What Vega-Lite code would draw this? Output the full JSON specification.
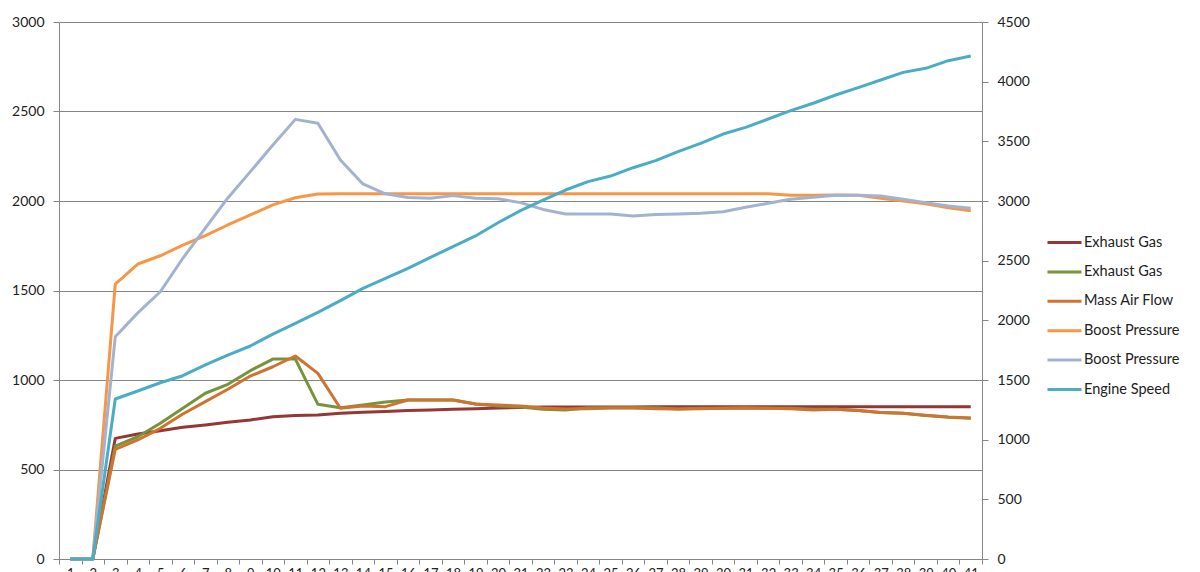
{
  "$schema": "https://vega.github.io/schema/vega-lite/v6.json",
  "width": 923,
  "height": 537,
  "autosize": "none",
  "padding": {"left": 59, "top": 22, "right": 218, "bottom": 13},
  "background": "white",
  "config": {
    "font": "Lato",
    "view": {"stroke": null},
    "axis": {
      "domainColor": "#868686",
      "tickColor": "#868686",
      "gridColor": "#868686",
      "labelColor": "#222222",
      "labelFontSize": 14,
      "labelFont": "Lato",
      "title": null
    },
    "legend": {"labelFont": "Lato"}
  },
  "data": {
    "values": [
      {"t": 1, "eg1": 0, "eg2": 0, "maf": 0, "bp1": 0, "bp2": 0, "rpm": 0},
      {"t": 2, "eg1": 0, "eg2": 0, "maf": 0, "bp1": 0, "bp2": 0, "rpm": 0},
      {"t": 3, "eg1": 674, "eg2": 631, "maf": 613, "bp1": 1536, "bp2": 1242, "rpm": 1341},
      {"t": 4, "eg1": 698, "eg2": 683, "maf": 665, "bp1": 1648, "bp2": 1375, "rpm": 1408},
      {"t": 5, "eg1": 717, "eg2": 758, "maf": 730, "bp1": 1694, "bp2": 1493, "rpm": 1477},
      {"t": 6, "eg1": 736, "eg2": 842, "maf": 810, "bp1": 1754, "bp2": 1680, "rpm": 1536},
      {"t": 7, "eg1": 749, "eg2": 926, "maf": 879, "bp1": 1806, "bp2": 1849, "rpm": 1626},
      {"t": 8, "eg1": 764, "eg2": 976, "maf": 948, "bp1": 1866, "bp2": 2017, "rpm": 1709},
      {"t": 9, "eg1": 777, "eg2": 1052, "maf": 1022, "bp1": 1922, "bp2": 2164, "rpm": 1785},
      {"t": 10, "eg1": 795, "eg2": 1117, "maf": 1074, "bp1": 1978, "bp2": 2313, "rpm": 1885},
      {"t": 11, "eg1": 801, "eg2": 1117, "maf": 1134, "bp1": 2018, "bp2": 2456, "rpm": 1975},
      {"t": 12, "eg1": 805, "eg2": 864, "maf": 1037, "bp1": 2039, "bp2": 2434, "rpm": 2067},
      {"t": 13, "eg1": 814, "eg2": 845, "maf": 842, "bp1": 2040, "bp2": 2229, "rpm": 2165},
      {"t": 14, "eg1": 820, "eg2": 860, "maf": 855, "bp1": 2040, "bp2": 2095, "rpm": 2268},
      {"t": 15, "eg1": 824, "eg2": 877, "maf": 851, "bp1": 2040, "bp2": 2040, "rpm": 2352},
      {"t": 16, "eg1": 829, "eg2": 888, "maf": 888, "bp1": 2040, "bp2": 2019, "rpm": 2436},
      {"t": 17, "eg1": 832, "eg2": 888, "maf": 888, "bp1": 2040, "bp2": 2015, "rpm": 2528},
      {"t": 18, "eg1": 836, "eg2": 888, "maf": 888, "bp1": 2040, "bp2": 2030, "rpm": 2617},
      {"t": 19, "eg1": 840, "eg2": 866, "maf": 866, "bp1": 2040, "bp2": 2015, "rpm": 2707},
      {"t": 20, "eg1": 843, "eg2": 855, "maf": 860, "bp1": 2040, "bp2": 2013, "rpm": 2818},
      {"t": 21, "eg1": 846, "eg2": 849, "maf": 855, "bp1": 2040, "bp2": 1991, "rpm": 2919},
      {"t": 22, "eg1": 849, "eg2": 836, "maf": 843, "bp1": 2040, "bp2": 1953, "rpm": 3008},
      {"t": 23, "eg1": 849, "eg2": 832, "maf": 838, "bp1": 2040, "bp2": 1927, "rpm": 3092},
      {"t": 24, "eg1": 849, "eg2": 845, "maf": 840, "bp1": 2040, "bp2": 1927, "rpm": 3162},
      {"t": 25, "eg1": 849, "eg2": 845, "maf": 843, "bp1": 2040, "bp2": 1927, "rpm": 3209},
      {"t": 26, "eg1": 849, "eg2": 845, "maf": 843, "bp1": 2040, "bp2": 1916, "rpm": 3279},
      {"t": 27, "eg1": 850, "eg2": 845, "maf": 840, "bp1": 2040, "bp2": 1925, "rpm": 3338},
      {"t": 28, "eg1": 851, "eg2": 838, "maf": 838, "bp1": 2040, "bp2": 1927, "rpm": 3413},
      {"t": 29, "eg1": 851, "eg2": 842, "maf": 840, "bp1": 2040, "bp2": 1931, "rpm": 3483},
      {"t": 30, "eg1": 851, "eg2": 842, "maf": 842, "bp1": 2040, "bp2": 1940, "rpm": 3561},
      {"t": 31, "eg1": 851, "eg2": 842, "maf": 845, "bp1": 2040, "bp2": 1965, "rpm": 3617},
      {"t": 32, "eg1": 851, "eg2": 842, "maf": 842, "bp1": 2040, "bp2": 1987, "rpm": 3687},
      {"t": 33, "eg1": 851, "eg2": 842, "maf": 840, "bp1": 2032, "bp2": 2010, "rpm": 3757},
      {"t": 34, "eg1": 851, "eg2": 836, "maf": 833, "bp1": 2032, "bp2": 2021, "rpm": 3819},
      {"t": 35, "eg1": 851, "eg2": 836, "maf": 836, "bp1": 2034, "bp2": 2032, "rpm": 3888},
      {"t": 36, "eg1": 851, "eg2": 829, "maf": 829, "bp1": 2032, "bp2": 2032, "rpm": 3950},
      {"t": 37, "eg1": 851, "eg2": 818, "maf": 818, "bp1": 2015, "bp2": 2028, "rpm": 4014},
      {"t": 38, "eg1": 851, "eg2": 814, "maf": 814, "bp1": 2000, "bp2": 2010, "rpm": 4078},
      {"t": 39, "eg1": 851, "eg2": 801, "maf": 803, "bp1": 1985, "bp2": 1991, "rpm": 4112},
      {"t": 40, "eg1": 851, "eg2": 792, "maf": 794, "bp1": 1962, "bp2": 1972, "rpm": 4176},
      {"t": 41, "eg1": 851, "eg2": 786, "maf": 788, "bp1": 1946, "bp2": 1959, "rpm": 4215}
    ]
  },
  "layer": [
    {
      "transform": [{"fold": ["eg1", "eg2", "maf", "bp1", "bp2"], "as": ["s", "v"]}],
      "mark": {"type": "line", "strokeWidth": 3, "strokeJoin": "round"},
      "encoding": {
        "x": {
          "field": "t",
          "type": "ordinal",
          "scale": {"type": "band", "paddingInner": 0, "paddingOuter": 0},
          "bandPosition": 0.5,
          "axis": {"tickBand": "extent", "tickSize": 5, "labelPadding": 3, "labelAngle": 0, "grid": false, "labelFontSize": 13}
        },
        "y": {
          "field": "v",
          "type": "quantitative",
          "scale": {"domain": [0, 3000], "nice": false},
          "axis": {"values": [0, 500, 1000, 1500, 2000, 2500, 3000], "format": "d", "grid": true, "tickSize": 6, "labelPadding": 9}
        },
        "color": {
          "field": "s",
          "type": "nominal",
          "scale": {
            "domain": ["eg1", "eg2", "maf", "bp1", "bp2", "rpm"],
            "range": ["#953735", "#77933C", "#CF7330", "#F79646", "#A3B3CF", "#4BACC6"]
          },
          "legend": {
            "title": null,
            "orient": "none",
            "legendX": 987,
            "legendY": 202,
            "symbolType": "stroke",
            "symbolSize": 1156,
            "symbolStrokeWidth": 3,
            "labelFontSize": 14.5,
            "labelColor": "#222222",
            "labelOffset": 1,
            "rowPadding": 4.4,
            "labelExpr": "{'eg1': 'Exhaust Gas', 'eg2': 'Exhaust Gas', 'maf': 'Mass Air Flow', 'bp1': 'Boost Pressure', 'bp2': 'Boost Pressure', 'rpm': 'Engine Speed'}[datum.label]"
          }
        }
      }
    },
    {
      "mark": {"type": "line", "strokeWidth": 3, "strokeJoin": "round"},
      "encoding": {
        "x": {"field": "t", "type": "ordinal", "bandPosition": 0.5},
        "y": {
          "field": "rpm",
          "type": "quantitative",
          "scale": {"domain": [0, 4500], "nice": false},
          "axis": {"orient": "right", "values": [0, 500, 1000, 1500, 2000, 2500, 3000, 3500, 4000, 4500], "format": "d", "grid": false, "tickSize": 6, "labelPadding": 9}
        },
        "color": {"datum": "rpm", "type": "nominal"}
      }
    }
  ],
  "resolve": {"scale": {"y": "independent"}}
}
